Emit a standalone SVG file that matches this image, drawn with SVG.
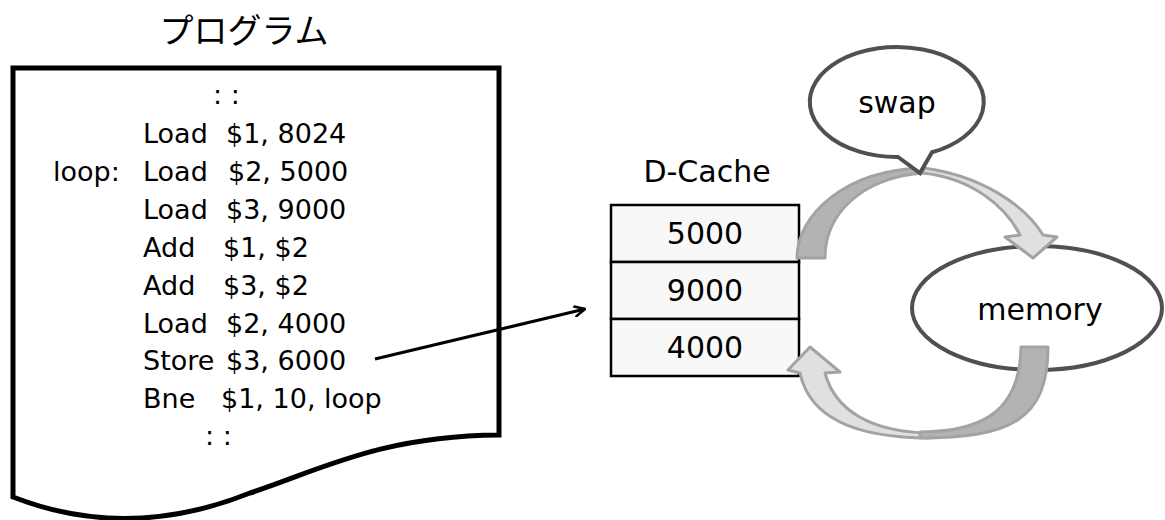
<svg xmlns="http://www.w3.org/2000/svg" width="1165" height="520" viewBox="0 0 1165 520">
<defs>
<style>
.t{font-family:"DejaVu Sans","Noto Sans CJK JP",sans-serif;fill:#000}
.code{font-size:27px}
.big{font-size:30px}
.jp{font-family:"Noto Sans CJK JP",sans-serif;font-size:34px;fill:#000}
.bub{fill:#fff;stroke:#505050;stroke-width:4}
.dark{fill:#b3b3b3;stroke:#a3a3a3;stroke-width:3;stroke-linejoin:round}
.light{fill:#e0e0e0;stroke:#a3a3a3;stroke-width:3;stroke-linejoin:round}
.cell{fill:#f8f8f8;stroke:#000;stroke-width:2.5}
</style>
<marker id="open" viewBox="0 0 12 12" refX="11" refY="6" markerWidth="12" markerHeight="12" markerUnits="userSpaceOnUse" orient="auto">
<path d="M1,1 L11,6 L1,11" fill="none" stroke="#000" stroke-width="2.5" stroke-linecap="round" stroke-linejoin="round"/>
</marker>
</defs>
<rect width="1165" height="520" fill="#fff"/>

<text class="jp" x="244" y="43" text-anchor="middle">プログラム</text>

<g id="program">
<path d="M13,68 H499 V435 C380,436 320,470 250,493 C170,525 90,527 13,497 Z" fill="#fff" stroke="#000" stroke-width="5"/>
<g class="t code">
<text x="213" y="104">: :</text>
<text x="143" y="143">Load</text><text x="226" y="143">$1, 8024</text>
<text x="53" y="181">loop:</text><text x="143" y="181">Load</text><text x="228" y="181">$2, 5000</text>
<text x="143" y="219">Load</text><text x="226" y="219">$3, 9000</text>
<text x="143" y="257">Add</text><text x="223" y="257">$1, $2</text>
<text x="143" y="295">Add</text><text x="223" y="295">$3, $2</text>
<text x="143" y="333">Load</text><text x="226" y="333">$2, 4000</text>
<text x="143" y="370">Store</text><text x="226" y="370">$3, 6000</text>
<text x="143" y="408">Bne</text><text x="221" y="408">$1, 10, loop</text>
<text x="205" y="445">: :</text>
</g>
</g>

<g id="dcache">
<text class="t big" x="707" y="182" text-anchor="middle">D-Cache</text>
<rect class="cell" x="611" y="205" width="188" height="57"/>
<rect class="cell" x="611" y="262" width="188" height="57"/>
<rect class="cell" x="611" y="319" width="188" height="57"/>
<text class="t big" x="705" y="244" text-anchor="middle">5000</text>
<text class="t big" x="705" y="301" text-anchor="middle">9000</text>
<text class="t big" x="705" y="358" text-anchor="middle">4000</text>
</g>

<g id="memory">
<ellipse class="bub" cx="1037" cy="308" rx="125" ry="62"/>
<text class="t" font-size="30" x="1040" y="320" text-anchor="middle">memory</text>
</g>

<g id="connectors">
<line x1="375" y1="359" x2="585" y2="309" stroke="#000" stroke-width="3" marker-end="url(#open)"/>
<path class="light" d="M923,168 C980,175 1025,205 1043,235 L1057,237 L1033,258 L1005,237 L1020,235 C1005,205 970,178 923,173 Z"/>
<path class="dark" d="M797,258 C797,215 845,170 923,168 L923,173 C860,178 825,215 825,258 Z"/>
<path class="light" d="M930,438 C860,438 810,420 800,373 L788,370 L810,347 L840,372 L825,373 C835,410 870,432 930,433 Z"/>
<path class="dark" d="M1048,347 C1048,420 1010,438 920,438 L920,432 C990,432 1020,405 1021,347 Z"/>
</g>

<g id="swap">
<path class="bub" d="M898,157 L920,173 L932,152.3 A87 55 0 1 0 898,157 Z" stroke-linejoin="miter"/>
<text class="t" font-size="30" x="897" y="113" text-anchor="middle">swap</text>
</g>
</svg>
